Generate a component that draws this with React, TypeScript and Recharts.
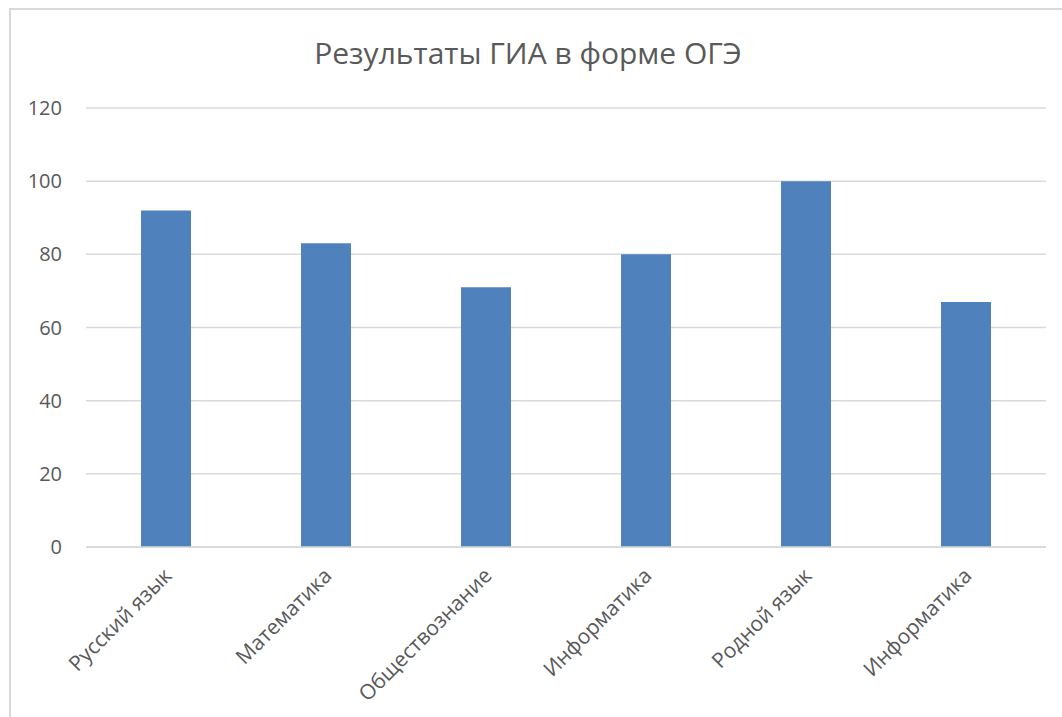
import React from "react";
import { BarChart, Bar, XAxis, YAxis, CartesianGrid } from "recharts";

const subjects = [
  "Русский язык",
  "Математика",
  "Обществознание",
  "Информатика",
  "Родной язык",
  "Информатика",
];
const scores = [92, 83, 71, 80, 100, 67];
const yTicks = [0, 20, 40, 60, 80, 100, 120];

const data = subjects.map((name, i) => ({ id: i, name, value: scores[i] }));

const TEXT = "#595959";
const FONT = "'Open Sans', sans-serif";

const AngledTick = (props: any) => {
  const { x, y, payload } = props;
  const label = subjects[payload.value] ?? "";
  return (
    <g transform={`translate(${x + 7},${y + 22})`}>
      <text
        transform="rotate(-45)"
        textAnchor="end"
        fill={TEXT}
        fontSize={21}
        fontFamily={FONT}
      >
        {label}
      </text>
    </g>
  );
};

export default function App() {
  return (
    <div
      style={{
        position: "absolute",
        left: 0,
        top: 0,
        width: 1062,
        height: 717,
        overflow: "hidden",
        background: "#fff",
      }}
    >
      <div
        style={{
          position: "absolute",
          left: 9,
          top: 8,
          width: 1100,
          height: 800,
          border: "2px solid #d9d9d9",
        }}
      />
      <div
        style={{
          position: "absolute",
          left: 0,
          top: 32,
          width: 1056,
          textAlign: "center",
          fontFamily: FONT,
          fontSize: 30,
          color: TEXT,
        }}
      >
        Результаты ГИА в форме ОГЭ
      </div>
      <BarChart
        width={1062}
        height={717}
        data={data}
        margin={{ top: 108, right: 16, left: 0, bottom: 20 }}
        style={{ position: "absolute", left: 0, top: 0 }}
      >
        <CartesianGrid vertical={false} stroke="#d9d9d9" strokeWidth={1.5} />
        <XAxis
          dataKey="id"
          height={150}
          tickLine={false}
          axisLine={{ stroke: "#d9d9d9", strokeWidth: 1.5 }}
          interval={0}
          tick={<AngledTick />}
        />
        <YAxis
          width={86}
          domain={[0, 120]}
          ticks={yTicks}
          axisLine={false}
          tickLine={false}
          tickMargin={18}
          tick={{ fill: TEXT, fontSize: 20, fontFamily: FONT }}
        />
        <Bar dataKey="value" fill="#4f81bd" barSize={50} isAnimationActive={false} />
      </BarChart>
    </div>
  );
}
